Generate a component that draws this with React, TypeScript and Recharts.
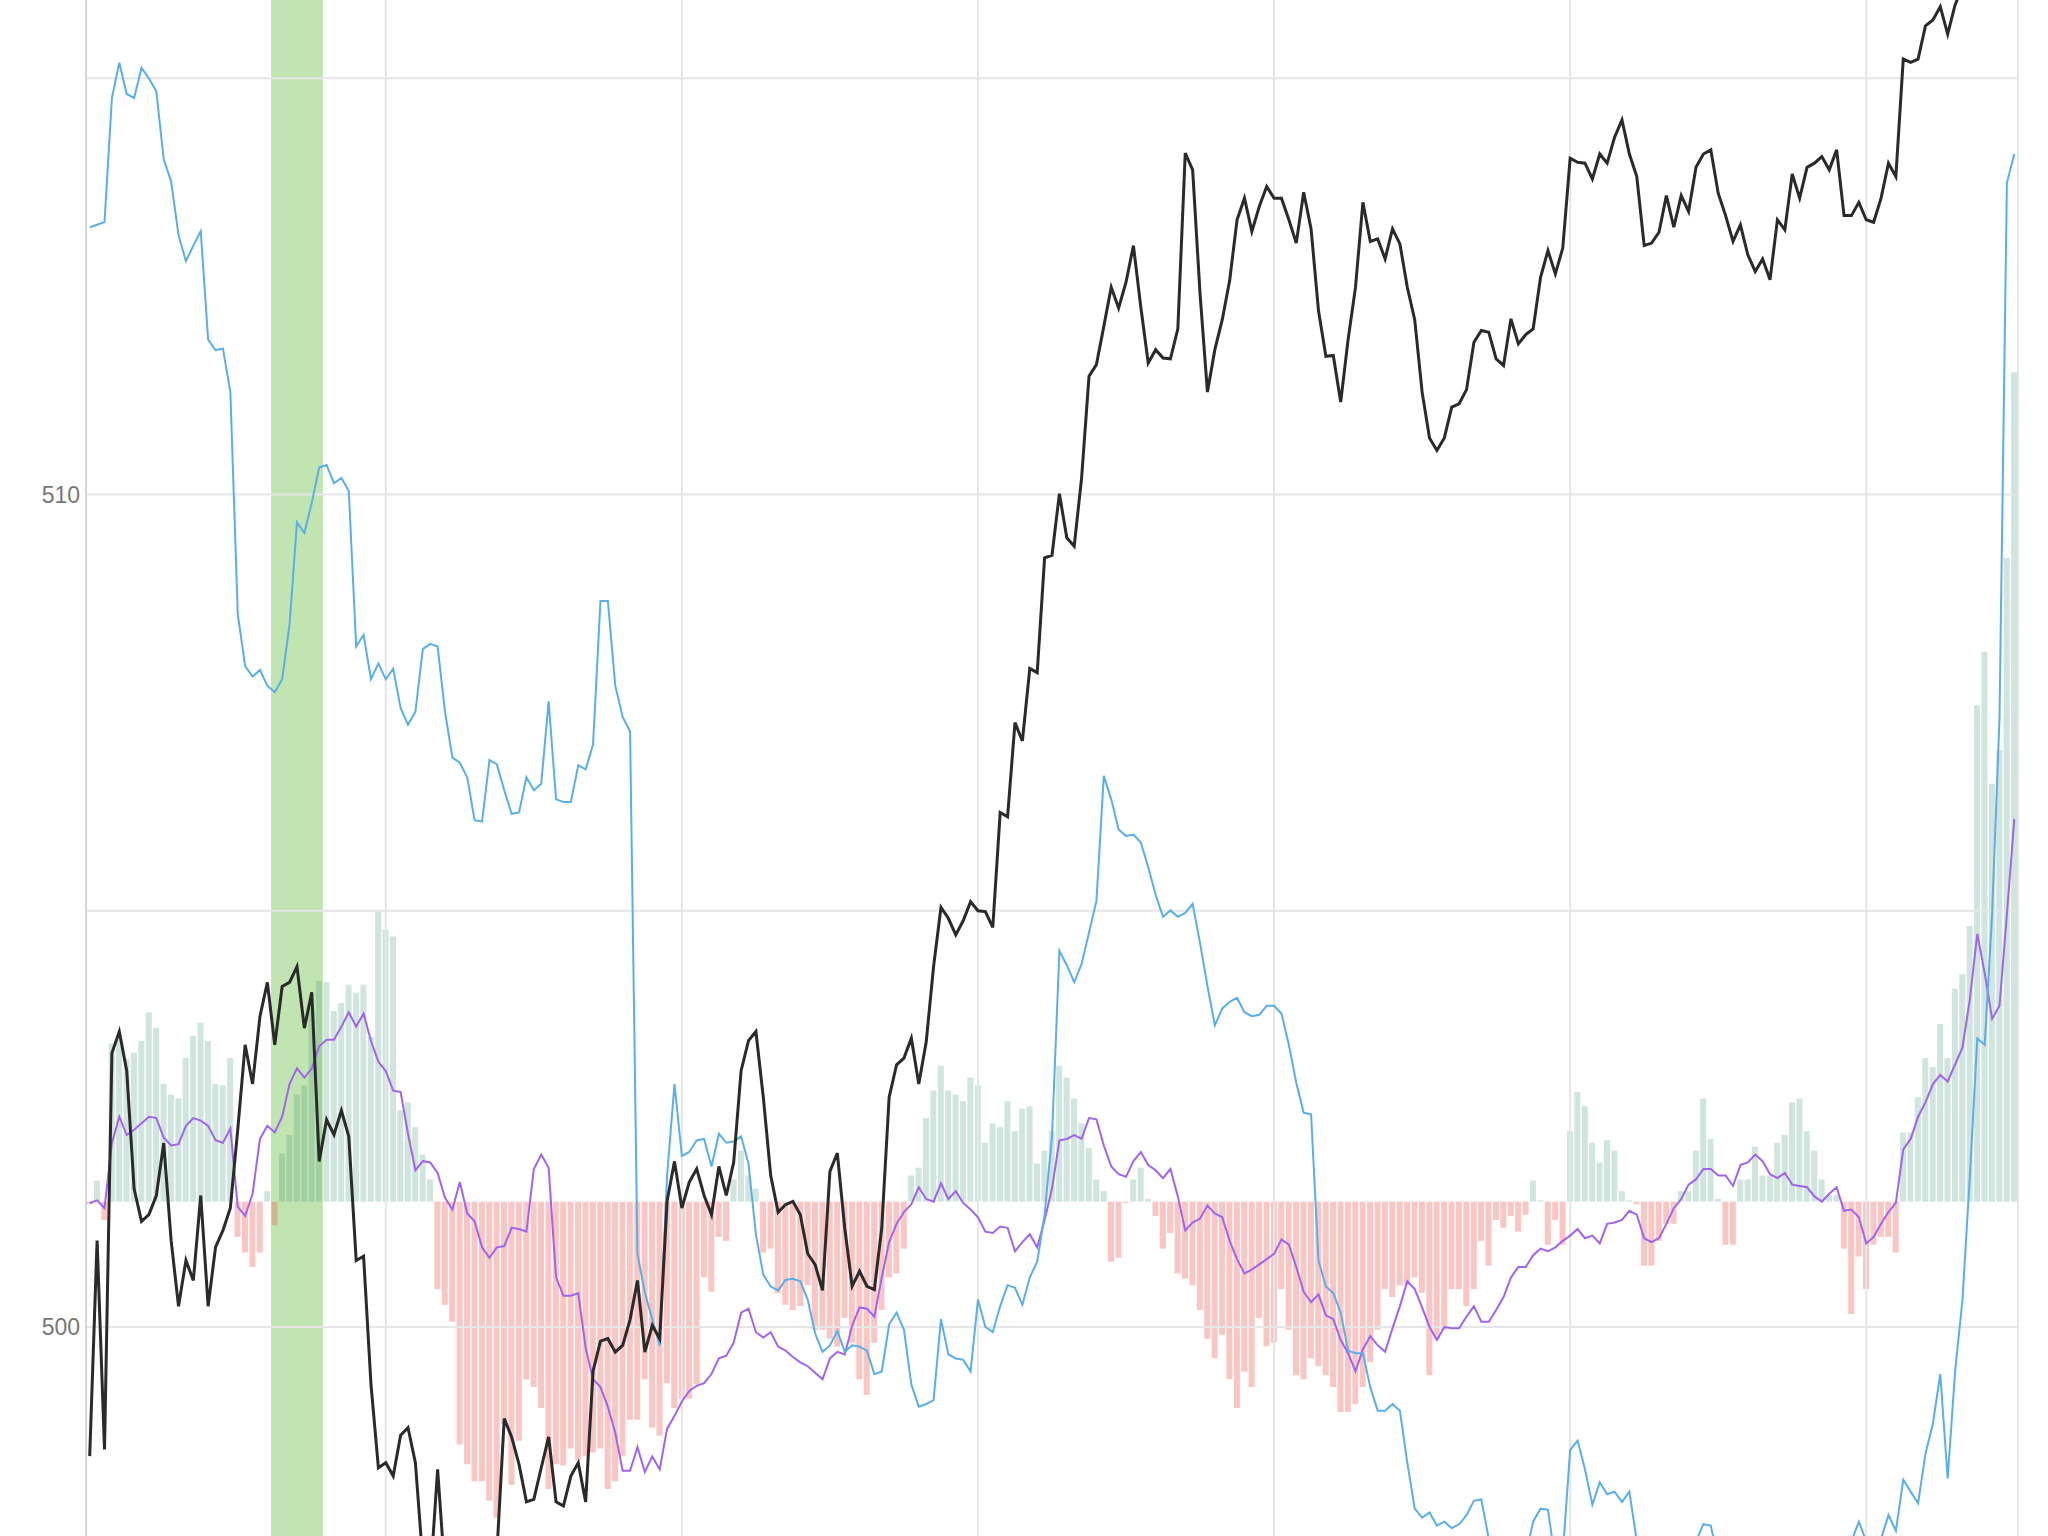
import { ComposedChart, Line, Bar, Cell, XAxis, YAxis, ReferenceArea, ReferenceLine } from 'recharts';

// black series, price units
const price = [
  498.45, 501.04, 498.53, 503.29, 503.55, 503.08, 501.66, 501.27, 501.35, 501.58,
  502.21, 501.04, 500.25, 500.8, 500.56, 501.58, 500.25, 500.96, 501.16, 501.43,
  502.37, 503.39, 502.92, 503.73, 504.14, 503.39, 504.09, 504.14, 504.33, 503.59,
  504.02, 501.99, 502.49, 502.31, 502.6, 502.29, 500.8, 500.85, 499.31, 498.31,
  498.37, 498.21, 498.7, 498.79, 498.37, 497.19, 496.96, 498.29, 497.03, 496.8,
  496.64, 496.88, 496.96, 496.72, 497.11, 497.27, 498.9, 498.68, 498.35, 497.9,
  497.93, 498.31, 498.68, 497.9, 497.85, 498.21, 498.37, 497.9, 499.47, 499.83,
  499.86, 499.7, 499.78, 500.09, 500.56, 499.7, 500.02, 499.86, 501.51, 501.99,
  501.43, 501.74, 501.9, 501.58, 501.35, 501.93, 501.58, 501.98, 503.08, 503.44,
  503.55, 502.76, 501.82, 501.38, 501.47, 501.51, 501.35, 500.88, 500.75, 500.44,
  501.87, 502.09, 501.19, 500.49, 500.67, 500.49, 500.45, 501.19, 502.76, 503.15,
  503.23, 503.47, 502.92, 503.42, 504.33, 505.04, 504.91, 504.71, 504.88, 505.11,
  505.0, 504.99, 504.8, 506.18, 506.13, 507.26, 507.04, 507.91, 507.86, 509.24,
  509.27, 510.01, 509.48, 509.38, 510.2, 511.42, 511.56, 512.02, 512.49, 512.24,
  512.55, 512.99, 512.25, 511.58, 511.74, 511.64, 511.63, 511.99, 514.1, 513.9,
  512.41, 511.23, 511.74, 512.1, 512.57, 513.3, 513.56, 513.16, 513.46, 513.7,
  513.56, 513.56, 513.3, 513.02, 513.63, 513.19, 512.21, 511.66, 511.67, 511.11,
  511.86, 512.49, 513.51, 513.04, 513.07, 512.83, 513.19, 513.01, 512.49, 512.1,
  511.23, 510.68, 510.53, 510.68, 511.05, 511.09, 511.26, 511.83, 511.97, 511.95,
  511.63, 511.55, 512.11, 511.81, 511.92, 511.99, 512.61, 512.93, 512.65, 512.96,
  514.04, 513.99, 513.98, 513.79, 514.09, 513.98, 514.29, 514.5, 514.09, 513.82,
  512.99, 513.02, 513.15, 513.59, 513.21, 513.59, 513.4, 513.93, 514.09, 514.14,
  513.62, 513.35, 513.04, 513.24, 512.88, 512.68, 512.83, 512.58, 513.3, 513.18,
  513.85, 513.56, 513.93, 513.98, 514.06, 513.9, 514.14, 513.35, 513.35, 513.51,
  513.3, 513.27, 513.56, 513.98, 513.82, 515.23, 515.19, 515.23, 515.63, 515.7,
  515.86, 515.53, 515.88, 516.1, 516.25, 516.33, 516.41, 516.49, 516.57, 516.64,
  516.72,
];

// blue series, 0-100 scale
const indicator = [
  85.2, 85.37, 85.54, 93.62, 95.92, 93.88, 93.62, 95.58, 94.9, 94.05,
  89.63, 88.18, 84.69, 82.99, 84.01, 84.95, 77.89, 77.21, 77.3, 74.49,
  60.03, 56.63, 55.95, 56.38, 55.36, 54.93, 55.78, 59.35, 65.99, 65.31,
  67.26, 69.56, 69.73, 68.54, 68.88, 68.03, 57.91, 58.67, 55.78, 56.8,
  55.78, 56.46, 53.91, 52.81, 53.66, 57.74, 58.08, 57.91, 53.66, 50.68,
  50.34, 49.4, 46.6, 46.51, 50.51, 50.25, 48.55, 47.02, 47.11, 49.4,
  48.55, 48.98, 54.34, 47.96, 47.79, 47.79, 50.17, 49.91, 51.53, 60.88,
  60.88, 55.36, 53.32, 52.38, 18.37, 15.82, 14.12, 12.41, 23.47, 29.42,
  24.74, 25.0, 25.76, 25.85, 24.06, 26.19, 25.6, 25.68, 26.02, 24.23,
  19.64, 17.01, 16.24, 15.99, 16.67, 16.75, 16.58, 15.39, 13.18, 11.99,
  12.41, 13.35, 11.99, 12.41, 12.33, 12.07, 10.54, 10.71, 13.78, 14.54,
  13.43, 9.86, 8.42, 8.59, 8.84, 14.12, 11.82, 11.56, 11.48, 10.71,
  15.39, 13.61, 13.27, 14.97, 16.33, 16.16, 15.05, 16.84, 17.86, 20.92,
  26.02, 38.1, 37.16, 36.05, 37.24, 39.29, 41.33, 49.49, 47.96, 46.0,
  45.58, 45.66, 45.15, 43.54, 41.75, 40.31, 40.73, 40.31, 40.56, 41.16,
  38.6, 35.8, 33.25, 34.35, 34.78, 35.03, 34.1, 33.84, 33.93, 34.52,
  34.52, 34.01, 31.97, 29.51, 27.55, 27.46, 17.94, 16.24, 15.82, 14.54,
  12.07, 11.9, 11.9, 9.69, 8.16, 8.16, 8.59, 8.16, 4.76, 1.78,
  1.19, 1.53, 0.68, 0.93, 0.51, 0.76, 1.36, 2.29, 2.38, -0.17,
  -2.04, -2.89, -2.47, -1.62, -1.19, 0.93, 1.78, 1.7, -1.62, -1.19,
  5.61, 6.21, 4.34, 2.04, 3.49, 2.72, 2.89, 2.21, 2.89, -0.34,
  -2.04, -2.89, -3.32, -3.74, -3.32, -2.47, -1.62, -0.34, 0.77, 0.68,
  -1.62, -2.89, -3.32, -3.74, -3.91, -3.74, -3.32, -3.57, -3.06, -2.89,
  -2.47, -2.72, -2.04, -2.47, -1.62, -1.19, -0.77, -1.19, -0.34, 0.93,
  -0.34, -1.62, -0.17, 1.36, 0.34, 3.66, 2.89, 2.13, 5.36, 7.31,
  10.54, 3.74, 10.71, 15.39, 23.47, 32.4, 31.97, 40.48, 53.23, 88.1,
  89.97,
];

// purple series, oscillator units (zero = histogram base)
const oscillator = [
  -0.1, 0.1, -0.5, 4.5, 6.5, 5.1, 5.5, 6.0, 6.5, 6.4,
  4.9, 4.3, 4.4, 5.8, 6.4, 6.2, 5.8, 4.7, 4.5, 5.6,
  -0.4, -1.1, 0.6, 4.8, 5.8, 5.3, 6.5, 9.0, 10.2, 9.5,
  10.2, 11.9, 12.4, 12.4, 13.4, 14.5, 13.4, 14.4, 12.3, 10.7,
  10.0, 8.5, 8.4, 5.2, 2.4, 3.1, 3.0, 2.2, 0.3, -0.6,
  1.5, -0.9, -1.5, -3.5, -4.3, -3.5, -3.4, -2.0, -2.1, -2.3,
  2.5, 3.6, 2.6, -5.8, -7.2, -7.2, -7.0, -11.2, -13.6, -14.2,
  -15.7, -17.7, -20.6, -20.6, -18.8, -20.7, -19.5, -20.5, -17.4, -16.4,
  -15.3, -14.5, -14.1, -13.9, -13.2, -12.0, -11.8, -10.8, -8.5, -8.2,
  -10.0, -10.4, -10.0, -11.1, -11.4, -11.9, -12.3, -12.6, -13.1, -13.6,
  -12.0, -11.5, -11.7, -9.5, -8.1, -8.2, -8.8, -5.8, -3.1, -1.7,
  -0.8, -0.2, 1.1, 0.2, 0.0, 1.4, 0.2, 0.8, -0.1, -0.6,
  -1.2, -2.3, -2.4, -1.9, -2.0, -3.8, -3.1, -2.5, -3.5, -1.4,
  1.0, 4.7, 4.8, 5.1, 4.8, 6.4, 6.3, 4.3, 2.7, 2.1,
  1.9, 3.1, 3.8, 2.8, 2.4, 1.8, 2.5, 0.4, -2.2, -1.6,
  -1.3, -0.3, -0.9, -1.2, -3.0, -4.4, -5.5, -5.2, -4.8, -4.4,
  -4.0, -2.9, -3.3, -5.0, -6.9, -7.7, -7.1, -8.7, -9.0, -10.6,
  -11.6, -13.0, -11.3, -10.3, -11.0, -11.5, -9.7, -8.0, -6.1, -6.7,
  -8.1, -9.6, -10.6, -9.6, -9.7, -9.7, -8.8, -8.0, -9.2, -9.2,
  -8.3, -7.3, -5.8, -5.0, -5.0, -4.1, -3.6, -3.8, -3.5, -3.0,
  -2.6, -2.1, -2.8, -2.6, -3.2, -1.7, -1.6, -1.4, -0.7, -1.0,
  -2.8, -3.1, -2.8, -1.7, -0.5, 0.2, 1.3, 1.7, 2.5, 2.5,
  2.0, 2.0, 1.2, 2.8, 3.0, 3.6, 3.1, 2.1, 1.8, 2.2,
  1.3, 1.2, 1.1, 0.4, 0.0, 0.6, 1.1, -0.7, -0.6, -1.2,
  -3.2, -2.7, -1.7, -0.8, -0.1, 4.0, 4.8, 6.5, 7.6, 9.0,
  9.7, 9.2, 10.5, 11.8, 15.5, 20.5, 17.5, 14.0, 15.0, 22.0,
  29.3,
];

// bars, same units as oscillator
const histogram = [
  -0.2, 1.6, -1.4, 12.1, 12.5, 10.9, 11.4, 12.3, 14.5, 13.3,
  9.0, 8.2, 7.9, 11.0, 12.7, 13.7, 12.3, 9.0, 8.9, 11.0,
  -2.7, -3.9, -5.0, -3.9, 0.8, -1.8, 3.7, 5.1, 8.2, 8.9,
  14.8, 16.9, 16.8, 14.6, 15.2, 16.6, 16.0, 16.6, 12.6, 22.2,
  20.8, 20.3, 7.0, 7.6, 5.7, 3.6, 1.7, -6.7, -7.9, -9.2,
  -18.6, -20.1, -21.4, -21.4, -22.9, -24.2, -17.0, -21.7, -18.3, -13.6,
  -14.2, -15.8, -22.0, -20.1, -20.2, -18.9, -19.8, -19.5, -19.2, -18.9,
  -22.0, -21.4, -19.5, -16.7, -16.7, -13.6, -17.3, -17.9, -13.9, -15.8,
  -15.1, -15.1, -14.0, -5.8, -6.9, -2.7, -3.0, 1.7, 3.9, 2.0,
  1.0, -3.9, -3.6, -7.0, -7.9, -8.3, -8.0, -6.4, -9.8, -9.8,
  -10.5, -11.1, -8.9, -10.8, -13.6, -14.8, -10.8, -8.3, -5.8, -5.5,
  -3.6, 2.0, 2.6, 6.4, 8.5, 10.4, 8.5, 8.2, 7.7, 9.5,
  8.9, 4.5, 6.0, 5.7, 7.7, 5.4, 7.1, 7.3, 2.9, 3.9,
  5.4, 10.4, 9.5, 7.9, 6.0, 4.1, 1.7, 0.8, -4.6, -4.3,
  -0.1, 1.7, 2.6, 0.2, -1.1, -3.6, -2.4, -5.5, -5.9, -6.4,
  -8.3, -10.5, -12.0, -10.2, -13.6, -15.8, -13.0, -14.2, -8.9, -11.1,
  -10.8, -6.7, -9.8, -13.3, -13.6, -12.0, -12.6, -13.3, -14.2, -16.1,
  -16.1, -15.5, -14.2, -12.3, -9.8, -6.7, -7.3, -6.4, -6.4, -5.8,
  -7.0, -13.3, -10.5, -9.8, -6.7, -6.7, -8.0, -6.7, -3.0, -4.9,
  -1.4, -2.0, -1.1, -2.3, -1.0, 1.6, 0.1, -3.3, -1.4, -3.3,
  5.4, 8.4, 7.3, 4.5, 3.0, 4.7, 3.9, 0.8, 0.1, -0.2,
  -4.9, -4.9, -3.0, -1.7, -1.7, 0.8, 0.8, 3.9, 7.9, 4.8,
  0.2, -3.3, -3.3, 1.7, 1.7, 4.2, 2.0, 2.0, 4.5, 5.1,
  7.6, 7.9, 5.4, 3.9, 1.7, 0.5, 0.5, -3.6, -8.6, -4.2,
  -6.7, -3.3, -2.7, -2.7, -3.9, 5.3, 5.3, 8.0, 11.0, 10.3,
  13.6, 11.0, 16.3, 17.4, 21.1, 38.0, 42.1, 32.0, 34.6, 49.3,
  63.5,
];

const periods = price.map((_, i) => i);
const gridPeriods = [40, 80, 120, 160, 200, 240];
const priceTicks = [500, 505, 510, 515];
const highlight = { from: 25, to: 31 };

const data = periods.map((i) => ({
  i,
  price: price[i],
  indicator: indicator[i],
  oscillator: oscillator[i],
  histogram: histogram[i],
}));

const UP = 'rgba(70,155,125,0.26)';
const DOWN = 'rgba(236,88,78,0.34)';
const GRID = '#e6e6e6';

export default function App() {
  return (
    <div style={{ position: 'absolute', left: 0, top: 0, width: 2048, height: 1536, background: '#fff' }}>
      <ComposedChart
        width={2048}
        height={1536}
        data={data}
        margin={{ top: 0, right: 0, bottom: 0, left: 0 }}
        barCategoryGap={0.5}
      >
        <XAxis dataKey="i" height={0} tick={false} tickLine={false} axisLine={false} />
        <YAxis
          yAxisId="price"
          width={86}
          domain={[497.49, 515.94]}
          allowDataOverflow
          ticks={priceTicks}
          interval={0}
          tickLine={false}
          tickSize={4}
          tickMargin={2}
          axisLine={{ stroke: '#d5d5d5', strokeWidth: 2 }}
          tick={{ fill: '#777', fontSize: 23, fontFamily: 'Liberation Sans, Arial, sans-serif' }}
          tickFormatter={(v: number) => (v % 10 === 0 ? String(v) : '')}
        />
        <YAxis yAxisId="osc" hide width={0} domain={[-25.6, 92]} allowDataOverflow />
        <YAxis
          yAxisId="ind"
          orientation="right"
          width={30}
          domain={[0, 100]}
          allowDataOverflow
          tick={false}
          tickLine={false}
          axisLine={{ stroke: GRID, strokeWidth: 2 }}
        />
        {priceTicks.map((v) => (
          <ReferenceLine key={`gy-${v}`} yAxisId="price" y={v} stroke={GRID} strokeWidth={2} />
        ))}
        {gridPeriods.map((p) => (
          <ReferenceLine key={`gx-${p}`} yAxisId="price" x={p} stroke={GRID} strokeWidth={2} />
        ))}
        <ReferenceArea
          yAxisId="price"
          x1={highlight.from}
          x2={highlight.to}
          fill="#c1e5b0"
          fillOpacity={1}
          stroke="none"
        />
        <Bar yAxisId="osc" dataKey="histogram" isAnimationActive={false}>
          {data.map((d) => (
            <Cell key={`h-${d.i}`} fill={d.histogram >= 0 ? UP : DOWN} />
          ))}
        </Bar>
        <Line
          yAxisId="osc"
          dataKey="oscillator"
          type="linear"
          stroke="#a064f0"
          strokeWidth={2}
          dot={false}
          isAnimationActive={false}
        />
        <Line
          yAxisId="ind"
          dataKey="indicator"
          type="linear"
          stroke="#5aaeea"
          strokeWidth={2}
          dot={false}
          isAnimationActive={false}
        />
        <Line
          yAxisId="price"
          dataKey="price"
          type="linear"
          stroke="#2a2a2a"
          strokeWidth={3}
          dot={false}
          isAnimationActive={false}
        />
      </ComposedChart>
    </div>
  );
}
